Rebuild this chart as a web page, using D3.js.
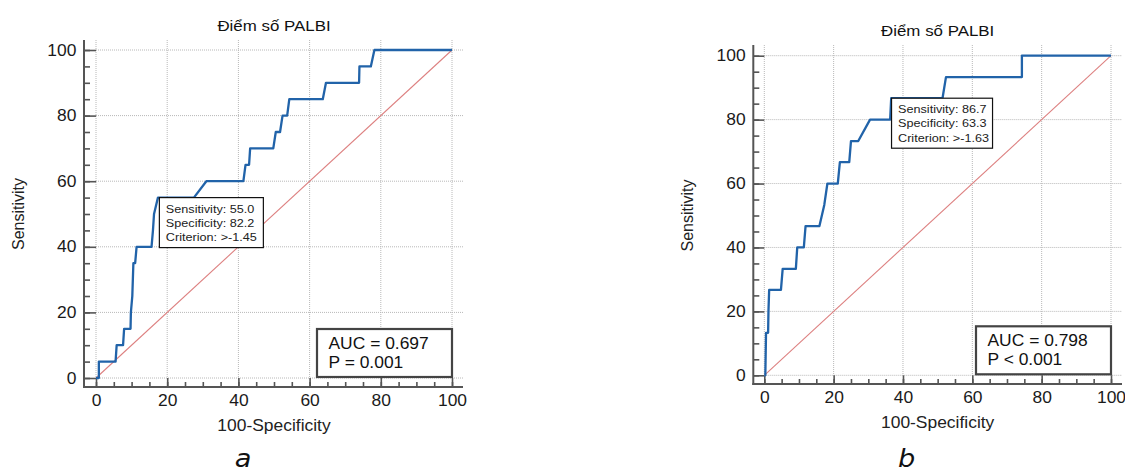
<!DOCTYPE html>
<html>
<head>
<meta charset="utf-8">
<script src="https://cdn.jsdelivr.net/npm/d3@7"></script>
<style>
  html, body { margin: 0; padding: 0; background: #fff; }
  svg { display: block; font-family: 'Liberation Sans', Arial, sans-serif; }
</style>
</head>
<body>
<svg id="chart"></svg>
<script>
// values
const title = 'Điểm số PALBI';
const xTitle = '100-Specificity';
const yTitle = 'Sensitivity';
const majorTicks = [0, 20, 40, 60, 80, 100];
const minorTicks = [0, 5, 10, 15, 20, 25, 30, 35, 40, 45, 50, 55, 60, 65, 70, 75, 80, 85, 90, 95, 100];

// panel a
const rocA_fpr  = [0, 0.8, 0.8, 5.5, 5.8, 7.6, 7.9, 9.7, 9.8, 10.2, 10.5, 11.0, 11.4, 15.6, 16.0, 16.3, 17.4, 27.5, 31.0, 41.4, 42.0, 43.0, 43.3, 49.8, 50.5, 51.7, 52.4, 53.7, 54.3, 63.7, 64.6, 73.9, 74.0, 77.2, 78.2, 100];
const rocA_sens = [0, 0, 5, 5, 10, 10, 15, 15, 20, 25, 35, 35, 40, 40, 45, 50, 55, 55, 60, 60, 65, 65, 70, 70, 75, 75, 80, 80, 85, 85, 90, 90, 95, 95, 100, 100];
const critA = { sens: 55.0, spec: 82.2, criterion: '>-1.45' };
const statsA = { auc: '0.697', p: '= 0.001' };

// panel b
const rocB_fpr  = [0, 0.3, 0.5, 1.1, 1.2, 1.4, 4.8, 5.3, 9.1, 9.5, 11.4, 11.9, 15.9, 17.3, 18.2, 21.2, 21.8, 24.5, 25.0, 27.1, 30.5, 36.3, 36.6, 51.4, 52.4, 74.3, 74.3, 100];
const rocB_sens = [0, 0, 13.3, 13.3, 20, 26.7, 26.7, 33.3, 33.3, 40, 40, 46.7, 46.7, 53.3, 60, 60, 66.7, 66.7, 73.3, 73.3, 80, 80, 86.7, 86.7, 93.3, 93.3, 100, 100];
const critB = { sens: 86.7, spec: 63.3, criterion: '>-1.63' };
const statsB = { auc: '0.798', p: '< 0.001' };

const width = 1125;
const height = 474;
const STRETCH = 1.09; // the source picture is a bit wider than tall

const svg = d3.select('#chart')
    .attr('width', width)
    .attr('height', height);

const panels = [
    { x0: 96, x1: 452, y0: 378, y1: 50, axisX: 84, axisY: 387, top: 40, right: 463,
      fpr: rocA_fpr, sens: rocA_sens, crit: critA, stats: statsA, tag: 'a', titleY: 31, noteW: 104 },
    { x0: 764.3, x1: 1111, y0: 375.3, y1: 55.7, axisX: 753.3, axisY: 384, top: 45, right: 1122,
      fpr: rocB_fpr, sens: rocB_sens, crit: critB, stats: statsB, tag: 'b', titleY: 36, noteW: 101 }
];

const stretchText = (g, x, y, str) => g.append('text')
    .attr('transform', `translate(${x},${y}) scale(${STRETCH},1)`)
    .text(str);

const drawPanel = p => {
    const x = d3.scaleLinear().domain([0, 100]).range([p.x0, p.x1]);
    const y = d3.scaleLinear().domain([0, 100]).range([p.y0, p.y1]);
    const g = svg.append('g');

    // dotted grid
    const grid = g.append('g')
        .attr('stroke', '#b8b8b8')
        .attr('stroke-width', 1)
        .attr('stroke-dasharray', '1,1');
    grid.selectAll('.gh').data(majorTicks).enter().append('line')
        .attr('x1', p.x0).attr('x2', p.right)
        .attr('y1', d => y(d)).attr('y2', d => y(d));
    grid.selectAll('.gv').data(majorTicks).enter().append('line')
        .attr('x1', d => x(d)).attr('x2', d => x(d))
        .attr('y1', p.top).attr('y2', p.y0);

    // axes: minor + major ticks pointing inward
    const styleAxis = a => {
        a.attr('color', '#555').attr('font-size', null).attr('font-family', null);
        a.select('.domain').remove();
        a.selectAll('line').attr('stroke-width', 1.6);
        a.selectAll('text')
            .attr('fill', '#1a1a1a')
            .attr('font-size', 16)
            .attr('transform', `scale(${STRETCH},1)`);
    };
    g.append('g').attr('transform', `translate(${p.axisX},0)`)
        .call(d3.axisLeft(y).tickValues(minorTicks).tickSize(-6).tickFormat(''))
        .call(styleAxis);
    g.append('g').attr('transform', `translate(${p.axisX},0)`)
        .call(d3.axisLeft(y).tickValues(majorTicks).tickSize(-(p.x0 - p.axisX)).tickPadding(7))
        .call(styleAxis);
    g.append('g').attr('transform', `translate(0,${p.axisY})`)
        .call(d3.axisBottom(x).tickValues(minorTicks).tickSize(-5).tickFormat(''))
        .call(styleAxis);
    g.append('g').attr('transform', `translate(0,${p.axisY})`)
        .call(d3.axisBottom(x).tickValues(majorTicks).tickSize(-(p.axisY - p.y0)).tickPadding(8))
        .call(styleAxis);

    // axis lines
    g.append('line')
        .attr('x1', p.axisX).attr('x2', p.axisX)
        .attr('y1', p.top).attr('y2', p.axisY + 1)
        .attr('stroke', '#555').attr('stroke-width', 2);
    g.append('line')
        .attr('x1', p.axisX - 1).attr('x2', p.right)
        .attr('y1', p.axisY).attr('y2', p.axisY)
        .attr('stroke', '#555').attr('stroke-width', 2);

    // reference diagonal
    g.append('line')
        .attr('x1', x(0)).attr('y1', y(0))
        .attr('x2', x(100)).attr('y2', y(100))
        .attr('stroke', '#dd8080')
        .attr('stroke-width', 1.1);

    // ROC curve
    const pts = p.fpr.map((f, i) => [f, p.sens[i]]);
    g.append('path')
        .datum(pts)
        .attr('fill', 'none')
        .attr('stroke', '#2163a9')
        .attr('stroke-width', 2.3)
        .attr('stroke-linejoin', 'round')
        .attr('d', d3.line().x(d => x(d[0])).y(d => y(d[1])));

    // criterion note, anchored at the optimal point
    const nx = x(100 - p.crit.spec);
    const ny = y(p.crit.sens);
    const note = g.append('g').attr('transform', `translate(${nx},${ny})`);
    note.append('rect')
        .attr('width', p.noteW).attr('height', 50)
        .attr('fill', '#fff')
        .attr('stroke', '#111')
        .attr('stroke-width', 1.2);
    const noteLines = [
        `Sensitivity: ${p.crit.sens.toFixed(1)}`,
        `Specificity: ${p.crit.spec.toFixed(1)}`,
        `Criterion: ${p.crit.criterion}`
    ];
    noteLines.forEach((t, i) => {
        stretchText(note, 6.5, 15 + i * 14.2, t)
            .attr('font-size', 11.6)
            .attr('fill', '#222');
    });

    // AUC box, bottom right corner
    const bw = 135, bh = 48;
    const stats = g.append('g').attr('transform', `translate(${x(100) - bw},${y(0) - bh - 1})`);
    stats.append('rect')
        .attr('width', bw).attr('height', bh)
        .attr('fill', '#fff')
        .attr('stroke', '#444')
        .attr('stroke-width', 2.2);
    stretchText(stats, 11.5, 19.5, `AUC = ${p.stats.auc}`).attr('font-size', 16).attr('fill', '#111');
    stretchText(stats, 11.5, 38.5, `P ${p.stats.p}`).attr('font-size', 16).attr('fill', '#111');

    // titles
    const cx = (p.x0 + p.x1) / 2;
    stretchText(g, cx, p.titleY, title)
        .attr('text-anchor', 'middle').attr('font-size', 15.5).attr('fill', '#111');
    stretchText(g, cx, p.axisY + 44, xTitle)
        .attr('text-anchor', 'middle').attr('font-size', 16).attr('fill', '#222');
    g.append('text')
        .attr('transform', `translate(${p.axisX - 60},${(p.y0 + p.y1) / 2}) rotate(-90)`)
        .attr('text-anchor', 'middle')
        .attr('font-size', 16)
        .attr('fill', '#222')
        .text(yTitle);

    // panel letter
    stretchText(g, cx - 31, 467, p.tag)
        .attr('text-anchor', 'middle')
        .attr('font-family', "'DejaVu Sans', Verdana, sans-serif")
        .attr('font-style', 'italic')
        .attr('font-size', 25)
        .attr('fill', '#111');
};

panels.forEach(drawPanel);
</script>
</body>
</html>
